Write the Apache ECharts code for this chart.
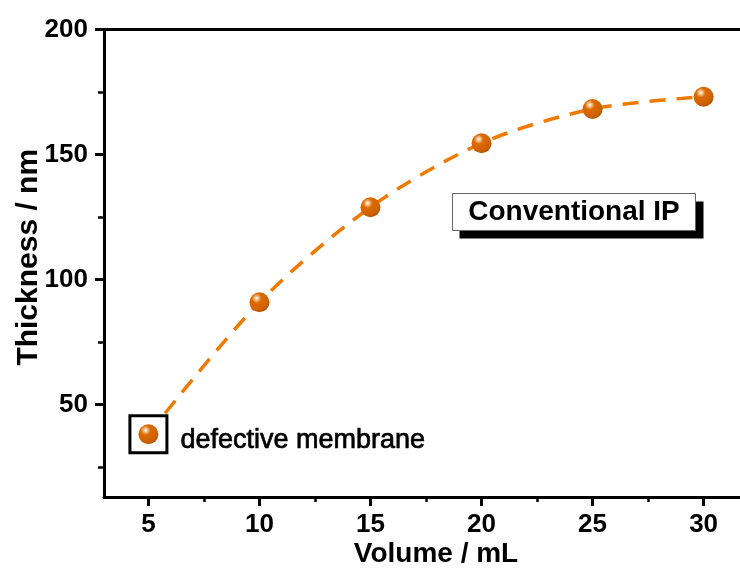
<!DOCTYPE html>
<html>
<head>
<meta charset="utf-8">
<script src="https://cdn.jsdelivr.net/npm/echarts@6/dist/echarts.min.js"></script>
<style>
  html, body { margin: 0; padding: 0; background: #fff; }
  #chart { width: 740px; height: 572px; }
</style>
</head>
<body>
<div id="chart"></div>
<script>
// Film thickness vs. monomer solution volume (conventional interfacial polymerization)
const volumes = [5, 10, 15, 20, 25, 30];
const thickness = [38.1, 90.9, 128.9, 154.5, 168.2, 173.1];
const defectiveIndex = 0;               // the 5 mL film is defective

const xMajorTicks = [5, 10, 15, 20, 25, 30];
const xMinorTicks = [7.5, 12.5, 17.5, 22.5, 27.5];
const yMajorTicks = [50, 100, 150, 200];
const yMinorTicks = [25, 75, 125, 175];

const FONT = '"Liberation Sans", Arial, Helvetica, sans-serif';
const AXIS_W = 3;

const sphere = {
  type: 'radial', x: 0.36, y: 0.3, r: 0.7,
  colorStops: [
    { offset: 0, color: '#ffffff' },
    { offset: 0.12, color: '#f6c89a' },
    { offset: 0.34, color: '#dc6a00' },
    { offset: 0.8, color: '#d06200' },
    { offset: 1, color: '#b85600' }
  ]
};

const linePts = volumes.map((v, i) => [v, thickness[i]]);
const defectivePt = [[volumes[defectiveIndex], thickness[defectiveIndex]]];

const chart = echarts.init(document.getElementById('chart'), null, { renderer: 'canvas' });

const baseX = { type: 'value', min: 3, max: 32, gridIndex: 0 };
const baseY = { type: 'value', min: 13, max: 200, gridIndex: 0 };

chart.setOption({
  animation: false,
  backgroundColor: '#fff',
  grid: { left: 104, top: 29.5, width: 644, height: 467.5, containLabel: false, outerBoundsMode: 'none' },
  xAxis: [
    Object.assign({}, baseX, {
      position: 'bottom',
      name: 'Volume / mL',
      nameLocation: 'middle',
      nameGap: 43,
      nameMoveOverlap: false,
      nameTextStyle: { fontFamily: FONT, fontWeight: 'bold', fontSize: 28, color: '#000', padding: [0, 0, 0, 20] },
      axisLine: { show: true, onZero: false, lineStyle: { color: '#000', width: AXIS_W } },
      axisTick: { show: true, inside: false, length: 9, customValues: xMajorTicks, lineStyle: { color: '#000', width: AXIS_W } },
      axisLabel: { show: true, margin: 15, customValues: xMajorTicks, fontFamily: FONT, fontWeight: 'bold', fontSize: 26, color: '#000' },
      splitLine: { show: false }
    }),
    Object.assign({}, baseX, {
      position: 'bottom',
      axisLine: { show: false },
      axisTick: { show: true, length: 5, customValues: xMinorTicks, lineStyle: { color: '#000', width: 2.5 } },
      axisLabel: { show: false },
      splitLine: { show: false }
    }),
    Object.assign({}, baseX, {
      position: 'top',
      axisLine: { show: true, onZero: false, lineStyle: { color: '#000', width: AXIS_W } },
      axisTick: { show: false },
      axisLabel: { show: false },
      splitLine: { show: false }
    })
  ],
  yAxis: [
    Object.assign({}, baseY, {
      position: 'left',
      name: 'Thickness / nm',
      nameLocation: 'middle',
      nameGap: 60,
      nameMoveOverlap: false,
      nameRotate: 90,
      nameTextStyle: { fontFamily: FONT, fontWeight: 'bold', fontSize: 30, color: '#000', padding: [0, 0, 0, 12] },
      axisLine: { show: true, onZero: false, lineStyle: { color: '#000', width: AXIS_W } },
      axisTick: { show: true, inside: false, length: 9, customValues: yMajorTicks, lineStyle: { color: '#000', width: AXIS_W } },
      axisLabel: { show: true, margin: 16, customValues: yMajorTicks, fontFamily: FONT, fontWeight: 'bold', fontSize: 26, color: '#000' },
      splitLine: { show: false }
    }),
    Object.assign({}, baseY, {
      position: 'left',
      axisLine: { show: false },
      axisTick: { show: true, length: 6, customValues: yMinorTicks, lineStyle: { color: '#000', width: 2.5 } },
      axisLabel: { show: false },
      splitLine: { show: false }
    })
  ],
  series: [
    {
      name: 'trend',
      type: 'line',
      xAxisIndex: 0, yAxisIndex: 0,
      data: linePts,
      smooth: 0.3,
      showSymbol: false,
      symbol: 'none',
      lineStyle: { color: '#f07a00', width: 3.5, type: [16, 11] },
      z: 2
    },
    {
      name: 'defective frame',
      type: 'scatter',
      xAxisIndex: 0, yAxisIndex: 0,
      data: defectivePt,
      symbol: 'rect',
      symbolSize: 37,
      itemStyle: { color: '#fff', borderColor: '#000', borderWidth: 3, opacity: 1 },
      label: {
        show: true,
        position: 'right',
        distance: 12,
        formatter: 'defective membrane',
        fontFamily: FONT,
        fontSize: 27,
        color: '#000',
        opacity: 1,
        textBorderColor: '#000',
        textBorderWidth: 0.7,
        offset: [0, 6]
      },
      emphasis: { disabled: true },
      z: 3
    },
    {
      name: 'thickness',
      type: 'scatter',
      xAxisIndex: 0, yAxisIndex: 0,
      data: linePts,
      symbol: 'circle',
      symbolSize: 20,
      itemStyle: { color: sphere, opacity: 1 },
      emphasis: { disabled: true },
      z: 4
    }
  ],
  graphic: [
    {
      type: 'group',
      left: 452, top: 193,
      children: [
        { type: 'rect', shape: { x: 7, y: 8, width: 244, height: 37 }, style: { fill: '#000' } },
        { type: 'rect', shape: { x: 0, y: 0, width: 243, height: 37 }, style: { fill: '#fff', stroke: '#666', lineWidth: 1 } },
        { type: 'text', x: 121.5, y: 19, style: { text: 'Conventional IP', font: 'bold 28px ' + FONT, fill: '#000', align: 'center', verticalAlign: 'middle' } }
      ]
    }
  ]
});
</script>
</body>
</html>
